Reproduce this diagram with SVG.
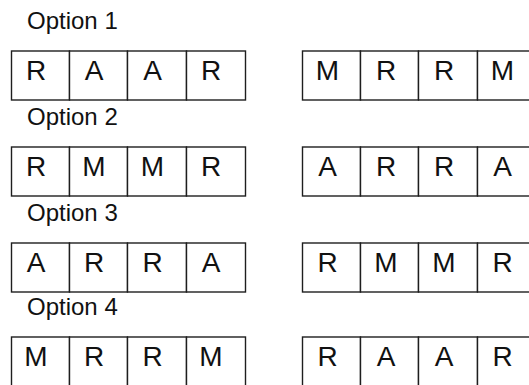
<svg xmlns="http://www.w3.org/2000/svg" width="529" height="385" viewBox="0 0 529 385">
<style>
.bg{fill:#ffffff}
.cell{fill:#ffffff;stroke:#1e1e1e;stroke-width:1.4}
.lbl{font-family:"Liberation Sans",Arial,sans-serif;font-size:24px;fill:#111111}
.ch{font-family:"Liberation Sans",Arial,sans-serif;font-size:28px;fill:#111111;text-anchor:middle}
</style>
<defs>
<g id="box4">
<rect class="cell" x="0" y="0" width="58" height="49"/>
<rect class="cell" x="58" y="0" width="58" height="49"/>
<rect class="cell" x="116" y="0" width="59" height="49"/>
<rect class="cell" x="175" y="0" width="59" height="49"/>
</g>
</defs>
<rect class="bg" x="0" y="0" width="529" height="385"/>

<g id="label1"><text class="lbl" x="27" y="28.5">Option 1</text></g>
<g id="label2"><text class="lbl" x="27" y="125">Option 2</text></g>
<g id="label3"><text class="lbl" x="27" y="221">Option 3</text></g>
<g id="label4"><text class="lbl" x="27" y="315">Option 4</text></g>

<g id="opt1-left">
<use href="#box4" x="11.5" y="51"/>
<text class="ch" x="36" y="79.5">R</text>
<text class="ch" x="94" y="79.5">A</text>
<text class="ch" x="152.5" y="79.5">A</text>
<text class="ch" x="211" y="79.5">R</text>
</g>
<g id="opt1-right">
<use href="#box4" x="302.5" y="51"/>
<text class="ch" x="327.5" y="79.5">M</text>
<text class="ch" x="386" y="79.5">R</text>
<text class="ch" x="444" y="79.5">R</text>
<text class="ch" x="502.5" y="79.5">M</text>
</g>

<g id="opt2-left">
<use href="#box4" x="11.5" y="147"/>
<text class="ch" x="36" y="175.5">R</text>
<text class="ch" x="94" y="175.5">M</text>
<text class="ch" x="152.5" y="175.5">M</text>
<text class="ch" x="211" y="175.5">R</text>
</g>
<g id="opt2-right">
<use href="#box4" x="302.5" y="147"/>
<text class="ch" x="327.5" y="175.5">A</text>
<text class="ch" x="386" y="175.5">R</text>
<text class="ch" x="444" y="175.5">R</text>
<text class="ch" x="502.5" y="175.5">A</text>
</g>

<g id="opt3-left">
<use href="#box4" x="11.5" y="243"/>
<text class="ch" x="36" y="271.5">A</text>
<text class="ch" x="94" y="271.5">R</text>
<text class="ch" x="152.5" y="271.5">R</text>
<text class="ch" x="211" y="271.5">A</text>
</g>
<g id="opt3-right">
<use href="#box4" x="302.5" y="243"/>
<text class="ch" x="327.5" y="271.5">R</text>
<text class="ch" x="386" y="271.5">M</text>
<text class="ch" x="444" y="271.5">M</text>
<text class="ch" x="502.5" y="271.5">R</text>
</g>

<g id="opt4-left">
<use href="#box4" x="11.5" y="337"/>
<text class="ch" x="36" y="365.5">M</text>
<text class="ch" x="94" y="365.5">R</text>
<text class="ch" x="152.5" y="365.5">R</text>
<text class="ch" x="211" y="365.5">M</text>
</g>
<g id="opt4-right">
<use href="#box4" x="302.5" y="337"/>
<text class="ch" x="327.5" y="365.5">R</text>
<text class="ch" x="386" y="365.5">A</text>
<text class="ch" x="444" y="365.5">A</text>
<text class="ch" x="502.5" y="365.5">R</text>
</g>
</svg>
